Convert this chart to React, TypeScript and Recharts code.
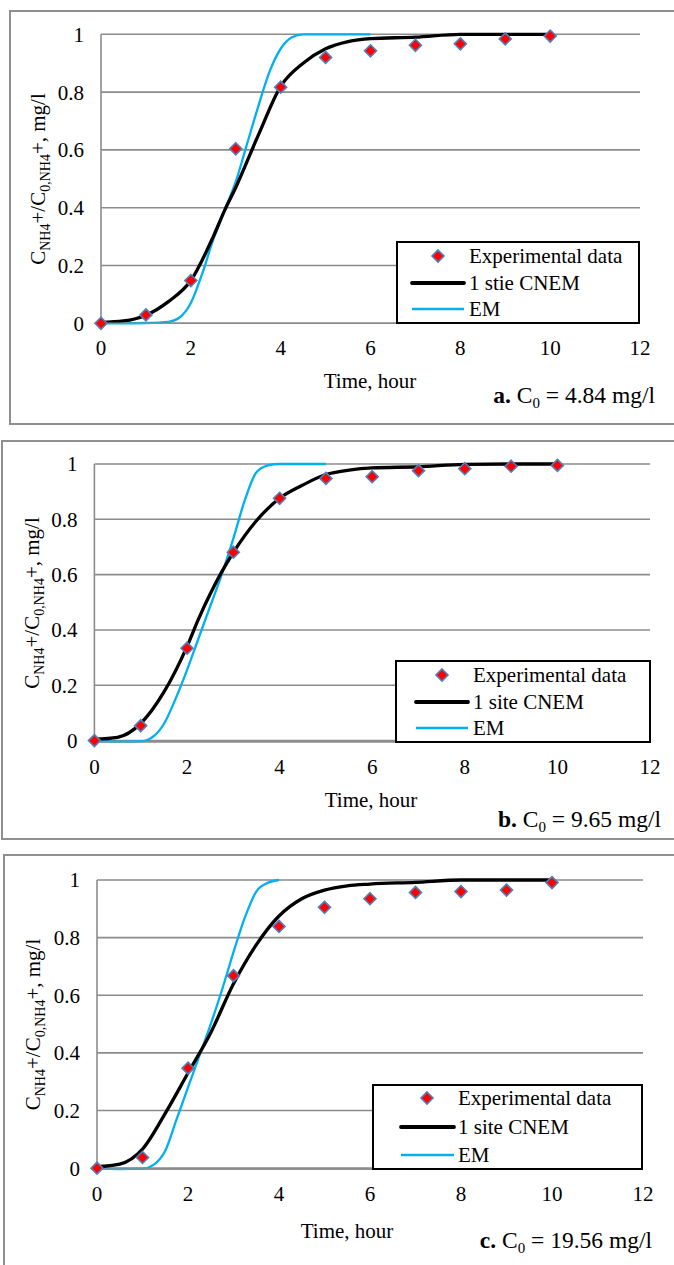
import React from 'react';
import { ComposedChart, Line, Scatter, XAxis, YAxis, CartesianGrid, Legend } from 'recharts';

const FONT = '"Liberation Serif", "Times New Roman", serif';

// ---- shared axes ----
const xTicks = [0, 2, 4, 6, 8, 10, 12];
const yTicks = [0, 0.2, 0.4, 0.6, 0.8, 1];

// ---- experimental data (time, hour) ----
const timeExp = [0, 1, 2, 3, 4, 5, 6, 7, 8, 9, 10];
const expA = [0, 0.029, 0.148, 0.604, 0.817, 0.92, 0.943, 0.962, 0.967, 0.984, 0.994];
const expB = [0, 0.054, 0.334, 0.681, 0.876, 0.948, 0.954, 0.976, 0.983, 0.992, 0.995];
const expC = [0, 0.037, 0.347, 0.668, 0.839, 0.905, 0.935, 0.957, 0.96, 0.965, 0.991];

// ---- 1 site CNEM model ----
const cnemTimeA = [0, 0.5, 1, 1.5, 2, 2.5, 2.75, 3, 3.5, 4, 4.5, 5, 5.5, 6, 7, 8, 9, 10];
const cnemA = [0.003, 0.008, 0.028, 0.075, 0.148, 0.3, 0.39, 0.47, 0.65, 0.82, 0.9, 0.95, 0.975, 0.985, 0.99, 1, 1, 1];
const cnemTimeB = [0, 0.5, 1, 1.5, 2, 2.25, 2.5, 2.75, 3, 3.5, 4, 4.5, 5, 5.5, 6, 7, 8, 9, 10];
const cnemB = [0.005, 0.012, 0.062, 0.175, 0.34, 0.44, 0.53, 0.61, 0.68, 0.795, 0.876, 0.924, 0.962, 0.978, 0.986, 0.99, 0.999, 1, 1];
const cnemTimeC = [0, 0.5, 1, 1.5, 2, 2.5, 3, 3.5, 4, 4.5, 5, 5.5, 6, 7, 8, 9, 10];
const cnemC = [0.005, 0.014, 0.066, 0.19, 0.33, 0.47, 0.64, 0.775, 0.875, 0.935, 0.965, 0.98, 0.986, 0.992, 1, 1, 1];

// ---- EM model ----
const emTimeA = [0, 0.5, 1, 1.5, 1.75, 2, 2.25, 2.5, 2.75, 3, 3.25, 3.5, 3.75, 4, 4.25, 4.5, 5, 6];
const emA = [0, 0, 0.001, 0.005, 0.02, 0.07, 0.17, 0.29, 0.39, 0.49, 0.62, 0.75, 0.87, 0.95, 0.99, 1, 1, 1];
const emTimeB = [0, 0.5, 1, 1.25, 1.5, 1.75, 2, 2.25, 2.5, 2.75, 3, 3.25, 3.5, 3.75, 4, 5];
const emB = [0, -0.004, -0.003, 0.012, 0.06, 0.15, 0.255, 0.37, 0.485, 0.6, 0.73, 0.87, 0.97, 0.995, 1, 1];
const emTimeC = [0, 0.5, 1, 1.25, 1.5, 1.75, 2, 2.25, 2.5, 2.75, 3, 3.25, 3.5, 3.75, 4];
const emC = [0, -0.003, -0.002, 0.012, 0.06, 0.17, 0.28, 0.39, 0.5, 0.62, 0.75, 0.87, 0.96, 0.99, 1];

const legendNamesA = ['Experimental data', '1 stie CNEM', 'EM'];
const legendNamesBC = ['Experimental data', '1 site CNEM', 'EM'];

const toPts = (xs: number[], ys: number[]) => xs.map((x, i) => ({ x, y: ys[i] }));

const GRID = '#8c8c8c';
const CYAN = '#00b0f0';
const MARK_FILL = '#ff0000';
const MARK_STROKE = '#4f81bd';

const diamondPath = (cx: number, cy: number, r = 6) =>
  `M${cx},${cy - r}L${cx + r},${cy}L${cx},${cy + r}L${cx - r},${cy}Z`;

const Diamond = (props: any) => {
  const { cx, cy } = props;
  if (cx == null || cy == null) return null;
  return <path d={diamondPath(cx, cy)} fill={MARK_FILL} stroke={MARK_STROKE} strokeWidth={1.6} />;
};

type LegendCfg = {
  left: number; top: number; width: number; height: number;
  rows: number[]; markerX: number; lineX1: number; lineX2: number; textX: number;
};

type PanelCfg = {
  top: number; height: number;
  margin: { top: number; right: number; bottom: number; left: number };
  exp: number[]; cnemT: number[]; cnem: number[]; emT: number[]; em: number[];
  names: string[]; letter: string; c0: string;
  timeX: number; timeY: number; titleX: number; titleY: number; ylabX: number; ylabY: number;
  legend: LegendCfg;
};

const LegendBox = ({ cfg, names }: { cfg: LegendCfg; names: string[] }) => (
  <svg width={cfg.width} height={cfg.height} style={{ display: 'block' }}>
    <rect x={1} y={1} width={cfg.width - 2} height={cfg.height - 2} fill="#fff" stroke="#000" strokeWidth={2} />
    <path d={diamondPath(cfg.markerX, cfg.rows[0])} fill={MARK_FILL} stroke={MARK_STROKE} strokeWidth={1.6} />
    <line x1={cfg.lineX1} x2={cfg.lineX2} y1={cfg.rows[1]} y2={cfg.rows[1]} stroke="#000" strokeWidth={3.8} strokeLinecap="round" />
    <line x1={cfg.lineX1} x2={cfg.lineX2} y1={cfg.rows[2]} y2={cfg.rows[2]} stroke={CYAN} strokeWidth={2.4} />
    {names.map((n, i) => (
      <text key={n} x={cfg.textX} y={cfg.rows[i] + 7} fontFamily={FONT} fontSize={21} fill="#000">{n}</text>
    ))}
  </svg>
);

const XLabels = ({ cfg }: { cfg: PanelCfg }) => (
  <g>
    <text x={cfg.timeX} y={cfg.timeY} textAnchor="middle" fontFamily={FONT} fontSize={21} fill="#000">Time, hour</text>
    <text x={cfg.titleX} y={cfg.titleY} textAnchor="end" fontFamily={FONT} fontSize={23.5} fill="#000">
      <tspan fontWeight="bold">{cfg.letter}</tspan>
      <tspan> C</tspan>
      <tspan fontSize={15} dy={5}>0</tspan>
      <tspan dy={-5}>{' = ' + cfg.c0 + ' mg/l'}</tspan>
    </text>
  </g>
);

const YLabel = ({ cfg }: { cfg: PanelCfg }) => (
  <text x={cfg.ylabX} y={cfg.ylabY} transform={`rotate(-90 ${cfg.ylabX} ${cfg.ylabY})`} textAnchor="middle"
    fontFamily={FONT} fontSize={21} fill="#000">
    C<tspan fontSize={14} dy={5}>NH4</tspan>
    <tspan dy={-5}>+/C</tspan>
    <tspan fontSize={14} dy={5}>0,NH4</tspan>
    <tspan dy={-5}>+, mg/l</tspan>
  </text>
);

const Panel = ({ cfg }: { cfg: PanelCfg }) => {
  const lg = cfg.legend;
  return (
    <div style={{ position: 'absolute', left: 0, top: cfg.top, width: 674, height: cfg.height }}>
      <ComposedChart width={674} height={cfg.height} margin={cfg.margin}>
        <CartesianGrid vertical={false} stroke={GRID} strokeWidth={1.6} />
        <XAxis type="number" dataKey="x" domain={[0, 12]} ticks={xTicks} interval={0}
          tickLine={false} tickSize={0} tickMargin={17} height={30}
          axisLine={{ stroke: GRID, strokeWidth: 1.6 }}
          tick={{ fill: '#000', fontSize: 21, fontFamily: FONT }}
          label={<XLabels cfg={cfg} />} />
        <YAxis type="number" domain={[0, 1]} ticks={yTicks} interval={0}
          tickLine={false} tickSize={0} tickMargin={17} width={40}
          axisLine={{ stroke: GRID, strokeWidth: 1.6 }}
          tick={{ fill: '#000', fontSize: 21, fontFamily: FONT }}
          label={<YLabel cfg={cfg} />} />
        <Line data={toPts(cfg.emT, cfg.em)} dataKey="y" type="monotone" stroke={CYAN} strokeWidth={2.3}
          dot={false} activeDot={false} isAnimationActive={false} name={cfg.names[2]} />
        <Line data={toPts(cfg.cnemT, cfg.cnem)} dataKey="y" type="monotone" stroke="#000" strokeWidth={3.3}
          dot={false} activeDot={false} isAnimationActive={false} name={cfg.names[1]} />
        <Scatter data={toPts(timeExp, cfg.exp)} dataKey="y" shape={(p: any) => <Diamond {...p} />}
          isAnimationActive={false} name={cfg.names[0]} />
        <Legend layout="horizontal" verticalAlign="middle" align="center"
          wrapperStyle={{ left: lg.left, top: lg.top, width: lg.width, height: lg.height, margin: 0, padding: 0, lineHeight: 0 }}
          content={() => <LegendBox cfg={lg} names={cfg.names} />} />
      </ComposedChart>
    </div>
  );
};

const panelA: PanelCfg = {
  top: 0, height: 425,
  margin: { top: 34.3, right: 34, bottom: 71.7, left: 61 },
  exp: expA, cnemT: cnemTimeA, cnem: cnemA, emT: emTimeA, em: emA,
  names: legendNamesA, letter: 'a.', c0: '4.84',
  timeX: 370, timeY: 388, titleX: 655, titleY: 403, ylabX: 45, ylabY: 179,
  legend: { left: 396, top: 241, width: 244, height: 83, rows: [15, 42, 68], markerX: 42, lineX1: 16, lineX2: 68, textX: 73 },
};

const panelB: PanelCfg = {
  top: 420, height: 420,
  margin: { top: 44, right: 24, bottom: 68.3, left: 54.4 },
  exp: expB, cnemT: cnemTimeB, cnem: cnemB, emT: emTimeB, em: emB,
  names: legendNamesBC, letter: 'b.', c0: '9.65',
  timeX: 371, timeY: 387, titleX: 661, titleY: 407, ylabX: 39, ylabY: 183,
  legend: { left: 395, top: 240, width: 256, height: 83, rows: [15, 42, 68], markerX: 47, lineX1: 21, lineX2: 73, textX: 78 },
};

const panelC: PanelCfg = {
  top: 840, height: 425,
  margin: { top: 40, right: 31, bottom: 66, left: 57 },
  exp: expC, cnemT: cnemTimeC, cnem: cnemC, emT: emTimeC, em: emC,
  names: legendNamesBC, letter: 'c.', c0: '19.56',
  timeX: 347, timeY: 398, titleX: 652, titleY: 408, ylabX: 40, ylabY: 184.5,
  legend: { left: 372, top: 244, width: 271, height: 86, rows: [14, 43, 71], markerX: 55, lineX1: 29, lineX2: 82, textX: 86 },
};

export default function App() {
  const border = '2px solid #8f8f8f';
  return (
    <div style={{ position: 'absolute', left: 0, top: 0, width: 674, height: 1265, overflow: 'hidden', background: '#fff' }}>
      <div style={{ position: 'absolute', left: 9, top: 10, width: 700, height: 415, border, boxSizing: 'border-box' }} />
      <div style={{ position: 'absolute', left: 1, top: 440, width: 700, height: 400, border, boxSizing: 'border-box' }} />
      <div style={{ position: 'absolute', left: 3, top: 854, width: 700, height: 500, border, boxSizing: 'border-box' }} />
      <Panel cfg={panelA} />
      <Panel cfg={panelB} />
      <Panel cfg={panelC} />
    </div>
  );
}
